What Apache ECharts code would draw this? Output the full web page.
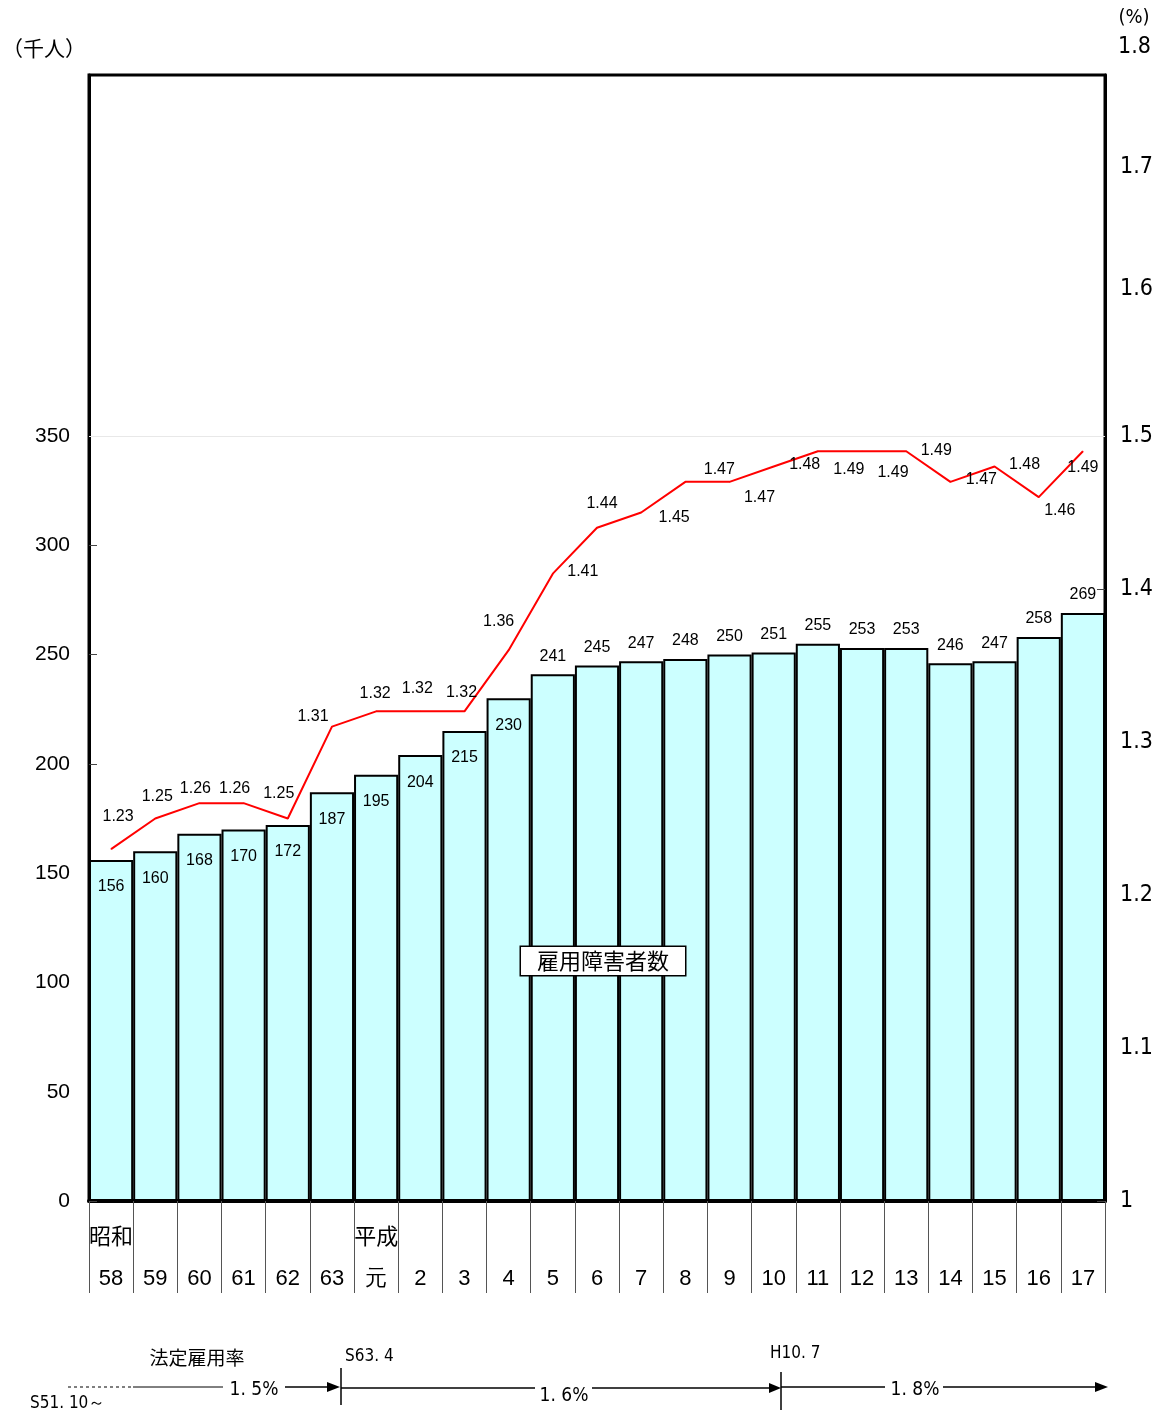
<!DOCTYPE html>
<html>
<head>
<meta charset="utf-8">
<script src="https://cdn.jsdelivr.net/npm/echarts@6/dist/echarts.min.js"></script>
<style>html,body{margin:0;padding:0;background:#fff}#c{width:1163px;height:1416px}</style>
</head>
<body>
<div id="c"></div>
<script>
// ---- data ----
var years = ["58","59","60","61","62","63","元","2","3","4","5","6","7","8","9","10","11","12","13","14","15","16","17"];
var eraLabels = ["昭和","","","","","","平成","","","","","","","","","","","","","","","",""];
var employed = [156,160,168,170,172,187,195,204,215,230,241,245,247,248,250,251,255,253,253,246,247,258,269];
var rate = [1.23,1.25,1.26,1.26,1.25,1.31,1.32,1.32,1.32,1.36,1.41,1.44,1.45,1.47,1.47,1.48,1.49,1.49,1.49,1.47,1.48,1.46,1.49];
var leftTicks = [0,50,100,150,200,250,300,350];
var rightTicks = [1,1.1,1.2,1.3,1.4,1.5];
var rightLabelVals = [1,1.1,1.2,1.3,1.4,1.5,1.596,1.676];
// label nudges for the rate labels (dx, dy)
var rateLabelOffsets = [[7,-32],[2,-22],[-4,-15],[-9,-15],[-9,-25],[-19,-10],[-1,-18],[-3,-23],[-3,-19],[-10,-29],[30,-2],[5,-24],[33,5],[34,-12],[30,16],[31,-2],[31,18],[31,21],[30,-1],[31,-2],[30,-2],[21,13],[0,16]];

var JP = '"Noto Sans CJK JP", sans-serif';
var SANS = '"Liberation Sans", Arial, sans-serif';
var NARROW = '"Liberation Sans Narrow", "DejaVu Sans Condensed", sans-serif';

var chart = echarts.init(document.getElementById('c'), null, {renderer:'canvas'});

var barData = employed.map(function(v, i){
  return {value: v, label: i < 10 ? {position:'insideTop', distance:19} : {position:'top', distance:10}};
});
var lineData = rate.map(function(v, i){
  return {value: v, label: {offset: rateLabelOffsets[i]}};
});

var option = {
  backgroundColor: '#fff',
  animation: false,
  grid: {left: 89, right: 58, top: 75, bottom: 215, show: true, borderColor: '#000', borderWidth: 3, backgroundColor: 'transparent'},
  xAxis: {
    type: 'category', data: years, boundaryGap: true,
    axisLine: {show: true, lineStyle: {color: '#000', width: 4}},
    axisTick: {show: true, interval: 0, length: 92, lineStyle: {color: '#555', width: 1}},
    axisLabel: {
      interval: 0, margin: 13,
      formatter: function(v, i){ return '{e|' + (eraLabels[i] || ' ') + '}\n{n|' + v + '}'; },
      rich: {
        e: {fontFamily: JP, fontSize: 22, lineHeight: 43, color: '#000'},
        n: {fontFamily: SANS, fontSize: 22, lineHeight: 43, color: '#000'}
      }
    }
  },
  yAxis: [{
    type: 'value', min: 0, max: 515.16, position: 'left',
    axisLine: {show: true, lineStyle: {color: '#000', width: 3}},
    axisTick: {show: true, inside: true, length: 8, customValues: leftTicks, lineStyle: {color: '#444', width: 1}},
    axisLabel: {customValues: leftTicks, fontFamily: SANS, fontSize: 21, color: '#000', margin: 19},
    splitLine: {show: false}
  }, {
    type: 'value', min: 1, max: 1.7359, position: 'right',
    axisLine: {show: true, lineStyle: {color: '#000', width: 3}},
    axisTick: {show: true, inside: true, length: 8, customValues: rightTicks, lineStyle: {color: '#444', width: 1}},
    axisLabel: {customValues: rightLabelVals, fontFamily: NARROW, fontSize: 23, color: '#000', margin: 15,
      formatter: function(v){ return Math.abs(v - 1) < 1e-9 ? '1' : v.toFixed(1); }},
    splitLine: {show: false}
  }],
  series: [{
    type: 'bar', yAxisIndex: 0, data: barData,
    barWidth: '100%', barCategoryGap: 0,
    itemStyle: {color: '#CCFFFF', borderColor: '#000', borderWidth: 2},
    label: {show: true, fontFamily: SANS, fontSize: 16, color: '#000'},
    markLine: {silent: true, symbol: ['none','none'], label: {show: false},
      lineStyle: {color: '#e8e8e8', width: 1, type: 'solid'}, data: [{yAxis: 350}]},
    z: 2
  }, {
    type: 'line', yAxisIndex: 1, data: lineData,
    symbol: 'circle', symbolSize: 1, itemStyle: {color: '#FF0000'},
    lineStyle: {color: '#FF0000', width: 2},
    label: {show: true, position: 'inside', fontFamily: SANS, fontSize: 16, color: '#000'},
    z: 3
  }],
  graphic: [
    {type: 'text', x: 2, y: 48, style: {text: '（千人）', font: '21px ' + JP, fill: '#000', align: 'left', verticalAlign: 'middle'}},
    {type: 'text', x: 1134, y: 18, style: {text: '(%)', font: '20px ' + NARROW, fill: '#000', align: 'center', verticalAlign: 'middle'}},
    {type: 'text', x: 1118, y: 47, style: {text: '1.8', font: '23px ' + NARROW, fill: '#000', align: 'left', verticalAlign: 'middle'}},
    {type: 'text', x: 603, y: 961, z: 10, style: {text: '雇用障害者数', font: '22px ' + JP, fill: '#000', align: 'center', verticalAlign: 'middle',
      backgroundColor: '#fff', borderColor: '#000', borderWidth: 1.5, padding: [3, 16, 3, 16]}},
    // legal employment rate annotation
    {type: 'text', x: 197, y: 1358, style: {text: '法定雇用率', font: '19px ' + JP, fill: '#000', align: 'center', verticalAlign: 'middle'}},
    {type: 'text', x: 30, y: 1404, style: {text: 'S51. 10～', font: '17px ' + NARROW, fill: '#000', align: 'left', verticalAlign: 'middle'}},
    {type: 'line', shape: {x1: 68, y1: 1387, x2: 133, y2: 1387}, style: {stroke: '#000', lineWidth: 1, lineDash: [3, 3]}},
    {type: 'line', shape: {x1: 133, y1: 1387, x2: 223, y2: 1387}, style: {stroke: '#000', lineWidth: 1}},
    {type: 'text', x: 254, y: 1390, style: {text: '1. 5%', font: '19px ' + NARROW, fill: '#000', align: 'center', verticalAlign: 'middle'}},
    {type: 'line', shape: {x1: 285, y1: 1387, x2: 330, y2: 1387}, style: {stroke: '#000', lineWidth: 1.5}},
    {type: 'polygon', shape: {points: [[327, 1382], [340, 1387], [327, 1392]]}, style: {fill: '#000'}},
    {type: 'line', shape: {x1: 341, y1: 1368, x2: 341, y2: 1405}, style: {stroke: '#000', lineWidth: 1.5}},
    {type: 'text', x: 345, y: 1357, style: {text: 'S63. 4', font: '17px ' + NARROW, fill: '#000', align: 'left', verticalAlign: 'middle'}},
    {type: 'line', shape: {x1: 341, y1: 1388, x2: 535, y2: 1388}, style: {stroke: '#000', lineWidth: 1.5}},
    {type: 'text', x: 564, y: 1396, style: {text: '1. 6%', font: '19px ' + NARROW, fill: '#000', align: 'center', verticalAlign: 'middle'}},
    {type: 'line', shape: {x1: 592, y1: 1388, x2: 772, y2: 1388}, style: {stroke: '#000', lineWidth: 1.5}},
    {type: 'polygon', shape: {points: [[769, 1383], [781, 1388], [769, 1393]]}, style: {fill: '#000'}},
    {type: 'line', shape: {x1: 781, y1: 1372, x2: 781, y2: 1410}, style: {stroke: '#000', lineWidth: 1.5}},
    {type: 'text', x: 770, y: 1354, style: {text: 'H10. 7', font: '17px ' + NARROW, fill: '#000', align: 'left', verticalAlign: 'middle'}},
    {type: 'line', shape: {x1: 781, y1: 1387, x2: 885, y2: 1387}, style: {stroke: '#000', lineWidth: 1.5}},
    {type: 'text', x: 915, y: 1390, style: {text: '1. 8%', font: '19px ' + NARROW, fill: '#000', align: 'center', verticalAlign: 'middle'}},
    {type: 'line', shape: {x1: 943, y1: 1387, x2: 1098, y2: 1387}, style: {stroke: '#000', lineWidth: 1.5}},
    {type: 'polygon', shape: {points: [[1095, 1382], [1108, 1387], [1095, 1392]]}, style: {fill: '#000'}}
  ]
};
chart.setOption(option);
</script>
</body>
</html>
